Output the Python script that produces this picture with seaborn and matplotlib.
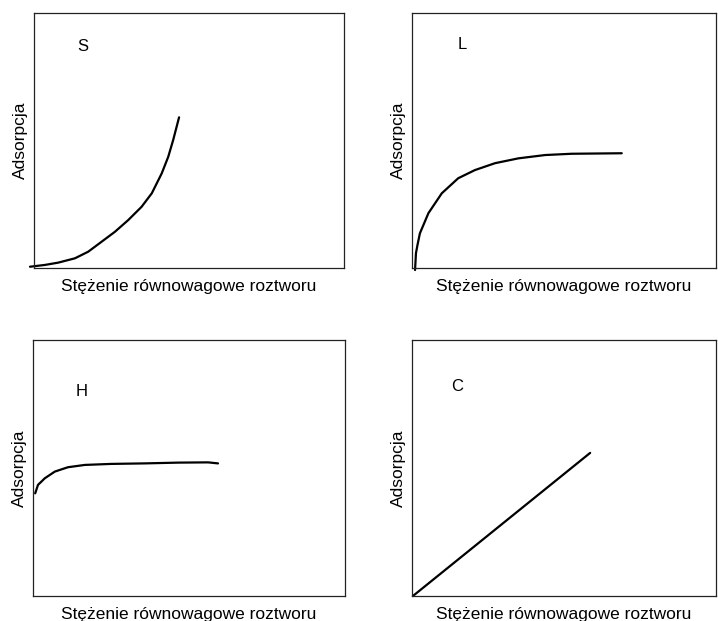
import seaborn as sns
import pandas as pd
import matplotlib.pyplot as plt

# isotherm shapes (fraction of the box)
s_x = [-0.013, 0.035, 0.078, 0.132, 0.175, 0.218, 0.261, 0.304, 0.347, 0.380, 0.412, 0.433, 0.449, 0.468]
s_y = [0.005, 0.012, 0.021, 0.038, 0.064, 0.103, 0.142, 0.188, 0.240, 0.293, 0.371, 0.436, 0.502, 0.591]

l_x = [0.010, 0.0115, 0.013, 0.018, 0.026, 0.054, 0.098, 0.152, 0.207, 0.273, 0.350, 0.438, 0.525, 0.690]
l_y = [-0.008, 0.024, 0.058, 0.09, 0.136, 0.215, 0.293, 0.352, 0.384, 0.411, 0.430, 0.443, 0.448, 0.450]

h_x = [0.007, 0.016, 0.038, 0.070, 0.112, 0.166, 0.251, 0.358, 0.465, 0.561, 0.593]
h_y = [0.401, 0.434, 0.460, 0.486, 0.503, 0.512, 0.516, 0.518, 0.521, 0.522, 0.518]

c_x = [0.003, 0.586]
c_y = [0.0, 0.559]

panels = ['S', 'L', 'H', 'C']
xlabel = 'Stężenie równowagowe roztworu'
ylabel = 'Adsorpcja'

sns.set_style('white')
plt.rcParams['font.family'] = ['Liberation Sans', 'DejaVu Sans']

fig = plt.figure(figsize=(7.18, 6.21), dpi=100)
W, H = 718, 621
# box corners in pixels: left, top, right, bottom
boxes = [(34, 13, 344, 268), (412, 13, 716, 268), (33, 340, 345, 596), (412, 340, 716, 596)]
data = [(s_x, s_y), (l_x, l_y), (h_x, h_y), (c_x, c_y)]
letter_pos = [(0.158, 0.867), (0.164, 0.875), (0.157, 0.797), (0.148, 0.82)]

for name, (l, t, r, b), (xs, ys), (lx, ly) in zip(panels, boxes, data, letter_pos):
    ax = fig.add_axes([l / W, 1 - b / H, (r - l) / W, (b - t) / H])
    df = pd.DataFrame({'x': xs, 'y': ys})
    sns.lineplot(data=df, x='x', y='y', ax=ax, color='black', lw=1.6, sort=False,
                 clip_on=False, solid_joinstyle='round', solid_capstyle='round')
    ax.set_xlim(0, 1)
    ax.set_ylim(0, 1)
    ax.set_xticks([])
    ax.set_yticks([])
    for sp in ax.spines.values():
        sp.set_color('#222222')
        sp.set_linewidth(0.9)
    ax.set_xlabel(xlabel, fontsize=12.5, labelpad=8, color='black')
    ax.set_ylabel(ylabel, fontsize=12.5, labelpad=4, color='black')
    ax.text(lx, ly, name, transform=ax.transAxes, fontsize=12, ha='center', va='center',
            color='black')

fig.savefig('out.png', dpi=100)
